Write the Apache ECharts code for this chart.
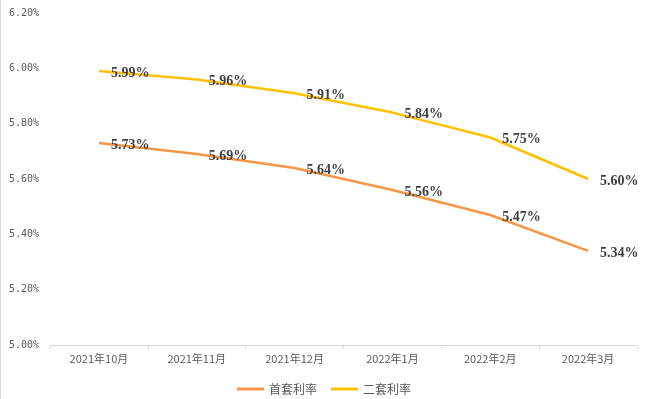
<!DOCTYPE html>
<html>
<head>
<meta charset="utf-8">
<script src="https://cdn.jsdelivr.net/npm/echarts@6/dist/echarts.min.js"></script>
<style>
html, body { margin: 0; padding: 0; background: #fff; }
#chart { width: 646px; height: 399px; border-left: 1px solid #d9d9d9; }
</style>
</head>
<body>
<div id="chart"></div>
<script>
var months = ['2021年10月', '2021年11月', '2021年12月', '2022年1月', '2022年2月', '2022年3月'];
var firstRate = [5.73, 5.69, 5.64, 5.56, 5.47, 5.34];
var secondRate = [5.99, 5.96, 5.91, 5.84, 5.75, 5.60];

var chart = echarts.init(document.getElementById('chart'));

function makeSeries(name, data, color) {
    return {
        name: name,
        type: 'line',
        data: data,
        showSymbol: true,
        symbol: 'circle',
        symbolSize: 0,
        lineStyle: { color: color, width: 2.5 },
        itemStyle: { color: color },
        label: {
            show: true,
            position: 'right',
            distance: 12,
            offset: [0, 2],
            color: '#404040',
            fontFamily: 'Liberation Serif',
            fontWeight: 'bold',
            fontSize: 14,
            formatter: function (p) { return p.value.toFixed(2) + '%'; }
        }
    };
}

chart.setOption({
    animation: false,
    grid: { left: 49, right: 10, top: 13, bottom: 54 },
    legend: {
        data: ['首套利率', '二套利率'],
        left: 'center',
        top: 378,
        icon: 'rect',
        itemWidth: 27,
        itemHeight: 3,
        itemGap: 14,
        textStyle: { color: '#595959', fontSize: 12, fontFamily: 'Noto Sans CJK SC' }
    },
    xAxis: {
        type: 'category',
        data: months,
        boundaryGap: true,
        axisLine: { lineStyle: { color: '#d9d9d9' } },
        axisTick: { show: true, length: 4, lineStyle: { color: '#d9d9d9' } },
        axisLabel: { color: '#595959', fontSize: 11, margin: 8, fontFamily: 'Noto Sans CJK SC' }
    },
    yAxis: {
        type: 'value',
        min: 5.0,
        max: 6.2,
        interval: 0.2,
        splitLine: { show: false },
        axisLine: { show: false },
        axisTick: { show: false },
        axisLabel: {
            color: '#595959',
            fontSize: 10,
            align: 'left',
            margin: 41,
            fontFamily: 'DejaVu Sans Mono',
            formatter: function (v) { return v.toFixed(2) + '%'; }
        }
    },
    series: [
        makeSeries('首套利率', firstRate, '#F79646'),
        makeSeries('二套利率', secondRate, '#FFC000')
    ]
});
</script>
</body>
</html>
